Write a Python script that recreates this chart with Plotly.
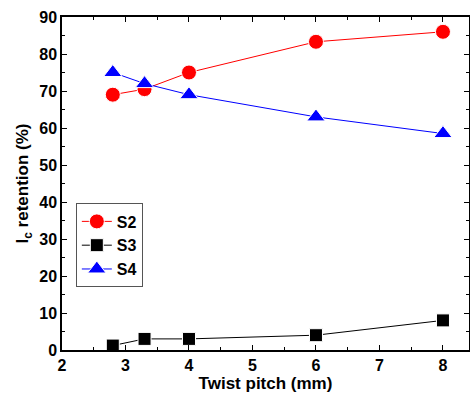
import plotly.graph_objects as go

x = [2.8, 3.3, 4, 6, 8]
s2 = [69, 70.5, 75, 83.3, 86]
s3 = [1.2, 3, 3, 4, 8]
s4 = [75, 72, 69, 63, 58.5]

fig = go.Figure()
fig.add_trace(go.Scatter(x=x, y=s2, name="S2", mode="lines+markers",
                         line=dict(color="red", width=1),
                         marker=dict(symbol="circle", size=15, color="red", line=dict(color="white", width=1))))
fig.add_trace(go.Scatter(x=x, y=s3, name="S3", mode="lines+markers",
                         line=dict(color="black", width=1),
                         marker=dict(symbol="square", size=13, color="black", line=dict(color="white", width=1))))
fig.add_trace(go.Scatter(x=x, y=s4, name="S4", mode="lines+markers",
                         line=dict(color="blue", width=1),
                         marker=dict(symbol="triangle-up", size=16, color="blue", line=dict(color="white", width=1))))

FAM = "Arial, Liberation Sans"
axis_common = dict(showline=True, linecolor="black", linewidth=1.5, mirror="ticks",
                   ticks="inside", ticklen=5, tickcolor="black", showgrid=False, zeroline=False,
                   automargin=False,
                   tickfont=dict(family=FAM, size=16, color="black", weight="bold"))
fig.update_layout(
    width=470, height=396,
    margin=dict(l=62, r=1, t=17, b=46),
    paper_bgcolor="white", plot_bgcolor="white",
    font=dict(family=FAM, size=14, color="black"),
    showlegend=True,
    legend=dict(x=0.034, y=0.44, xanchor="left", yanchor="top",
                bordercolor="#555", borderwidth=1, bgcolor="white",
                font=dict(family=FAM, size=16, color="black", weight="bold"),
                tracegroupgap=0),
    xaxis=dict(range=[2, 8.41], dtick=1, tick0=2,
               minor=dict(dtick=0.5, ticks="inside", ticklen=3, tickcolor="black"),
               title=dict(text="<b>Twist pitch (mm)</b>", font=dict(size=17), standoff=4),
               **axis_common),
    yaxis=dict(range=[0, 90], dtick=10,
               minor=dict(dtick=5, ticks="inside", ticklen=3, tickcolor="black"),
               title=dict(text="<b>I<sub>c</sub> retention (%)</b>", font=dict(size=17), standoff=6),
               **axis_common),
)
fig.write_html("out.html", config={"displayModeBar": False},
               post_script="document.body.style.margin='0';")
